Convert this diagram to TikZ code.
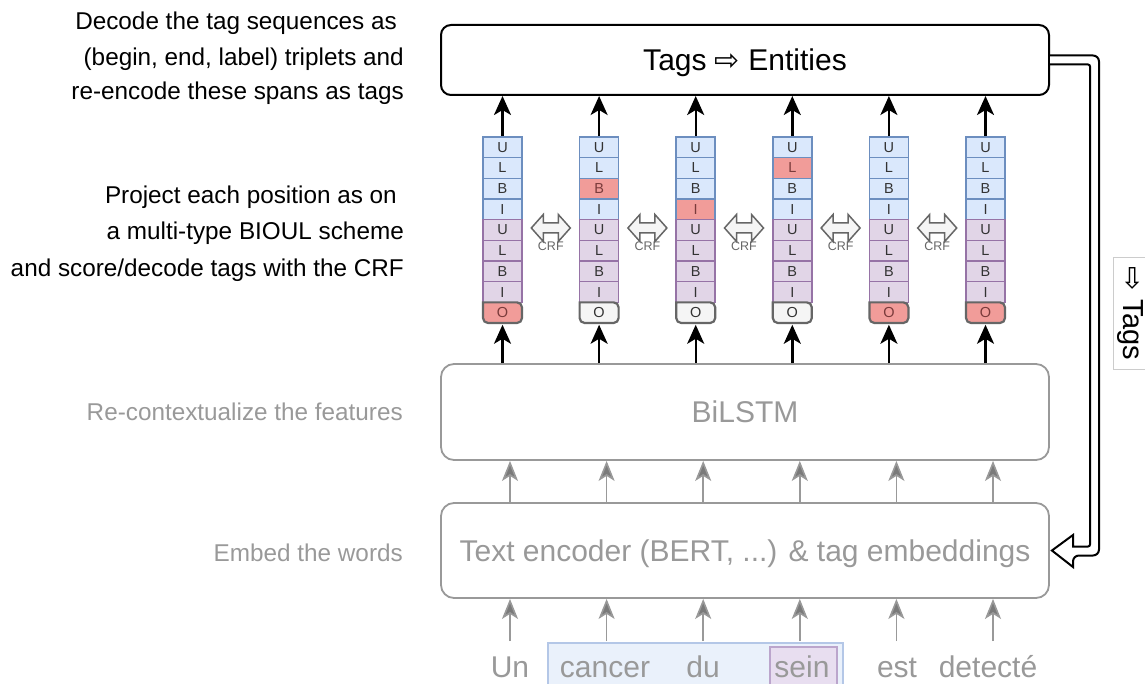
\documentclass[tikz,border=0pt]{standalone}
\usepackage{fontspec}
\setmainfont{Liberation Sans}
\newfontfamily\symfont{DejaVu Sans}
\usetikzlibrary{arrows.meta}
\definecolor{bfill}{HTML}{DAE8FC}
\definecolor{bdraw}{HTML}{6C8EBF}
\definecolor{pfill}{HTML}{E1D5E7}
\definecolor{pdraw}{HTML}{9673A6}
\definecolor{rfill}{HTML}{F19C99}
\definecolor{wfill}{HTML}{F5F5F5}
\definecolor{c333}{HTML}{333333}
\definecolor{c666}{HTML}{666666}
\definecolor{c999}{HTML}{999999}
\definecolor{c888}{HTML}{7A7A7A}
\definecolor{rtext}{HTML}{7A3B3B}
\definecolor{hlfill}{HTML}{EAF1FB}
\definecolor{hldraw}{HTML}{B4C7E7}
\definecolor{sfill}{HTML}{E8DEF0}
\definecolor{sdraw}{HTML}{BBA5CC}
\definecolor{lbldraw}{HTML}{CCCCCC}
\newcommand\myBig{\fontsize{30}{35}\selectfont}
\newcommand\myLbl{\fontsize{24.3}{29}\selectfont}
\newcommand\myCell{\fontsize{14.5}{14.5}\selectfont}
\newcommand\myCrf{\fontsize{12.5}{12.5}\selectfont}
\tikzset{
  mainbox/.style={minimum width=608pt, inner sep=0pt, font=\myBig, text depth=0pt},
  blackbox/.style={mainbox, draw=black, line width=2pt, rounded corners=10pt, text=black},
  graybox/.style={mainbox, draw=c999, line width=1.8pt, rounded corners=13pt, text=c999},
  cell/.style={minimum width=39pt, minimum height=20.67pt, inner sep=0pt, font=\myCell, text=c333, line width=1.5pt},
  blk/.style={draw=black, line width=2.4pt, -{Stealth[length=19pt, width=17pt, inset=5pt]}},
  gry/.style={draw=c999, line width=1.6pt, -{Stealth[length=20pt, width=16pt, inset=5pt, fill=c888]}},
  lbl/.style={font=\myLbl, anchor=base east, inner sep=0pt},
  word/.style={font=\myBig, text=c999, anchor=base, inner sep=0pt},
  crfarrow/.style={fill=wfill, draw=c666, line width=1.5pt, line join=miter},
  crftxt/.style={font=\myCrf, text=c666, inner sep=0pt},
  fbarrow/.style={draw=black, fill=white, line width=2pt},
}
\begin{document}
\begin{tikzpicture}[x=1pt,y=-1pt]
\useasboundingbox (0,0) rectangle (1145,684);

% left labels
\node[lbl] (l1) at (397,30) {Decode the tag sequences as};
\node[lbl] (l2) at (404,66) {(begin, end, label) triplets and};
\node[lbl] (l3) at (404,100) {re-encode these spans as tags};
\node[lbl] (l4) at (397,204) {Project each position as on};
\node[lbl] (l5) at (404,240) {a multi-type BIOUL scheme};
\node[lbl] (l6) at (404,277) {and score/decode tags with the CRF};
\node[lbl, text=c999] (l7) at (403,420) {Re-contextualize the features};
\node[lbl, text=c999] (l8) at (403,561) {Embed the words};

% main boxes
\node[blackbox, minimum height=70pt] (top) at (745,60) {Tags {\symfont ⇨} Entities};
\node[graybox, minimum height=96pt] (bil) at (745,412) {BiLSTM};
\node[graybox, minimum height=95pt] (enc) at (745,550.5) {Text encoder (BERT, ...) \& tag embeddings};

% highlighted span of words
\node[draw=hldraw, fill=hlfill, line width=1.2pt, minimum width=295pt, minimum height=57pt, inner sep=0pt] (span) at (695.5,671.5) {};
\node[draw=sdraw, fill=sfill, line width=1.2pt, minimum width=67pt, minimum height=53pt, inner sep=0pt] (seinbox) at (803.5,673.5) {};

% words
\node[word] (w1) at (510,677) {Un};
\node[word] (w2) at (605,677) {cancer};
\node[word] (w3) at (703,677) {du};
\node[word] (w4) at (802,677) {sein};
\node[word] (w5) at (897,677) {est};
\node[word] (w6) at (988,677) {detecté};

% tag columns
\foreach \i/\hl/\ored in {1/0/1,2/3/0,3/4/0,4/2/0,5/0/1,6/0/1}{
  \pgfmathsetmacro{\cx}{502.5+96.6*(\i-1)}
  \foreach \j/\t in {1/U,2/L,3/B,4/I}{
    \ifnum\j=\hl\relax\def\cf{rfill}\def\tc{rtext}\else\def\cf{bfill}\def\tc{c333}\fi
    \node[cell, fill=\cf, text=\tc, draw=bdraw] (c\i-\j) at (\cx,{137+20.67*(\j-0.5)}) {\t};
  }
  \foreach \j/\t in {5/U,6/L,7/B,8/I}{
    \node[cell, fill=pfill, draw=pdraw] (c\i-\j) at (\cx,{137+20.67*(\j-0.5)}) {\t};
  }
  \ifnum\ored=1\relax\def\of{rfill}\def\oc{rtext}\else\def\of{wfill}\def\oc{c333}\fi
  \path[fill=\of, draw=c666, line width=2.2pt] ({\cx-19.5},302.36) {[rounded corners=5pt] -- ({\cx-19.5},323) -- ({\cx+19.5},323) -- ({\cx+19.5},302.36)} -- cycle;
  \node[cell, text=\oc] (c\i-9) at (\cx,312.68) {O};
  \draw[blk] (c\i-1.north) -- (c\i-1.north |- top.south);
  \draw[blk] (c\i-9.south |- bil.north) -- ([yshift=-1pt]c\i-9.south);
}

% CRF double arrows
\foreach \k in {1,...,5}{
  \pgfmathsetmacro{\cx}{550.8+96.6*(\k-1)}
  \begin{scope}[shift={(\cx,228)}]
    \path[crfarrow] (-19.5,0) -- (-7.5,-13.5) -- (-7.5,-5) -- (7.5,-5) -- (7.5,-13.5) -- (19.5,0) -- (7.5,13.5) -- (7.5,5) -- (-7.5,5) -- (-7.5,13.5) -- cycle;
    \node[crftxt] (crf\k) at (0,18) {CRF};
  \end{scope}
}

% gray arrows
\foreach \i in {1,...,6}{
  \coordinate (g\i) at ({510+96.6*(\i-1)},0);
  \coordinate (wb\i) at ({510+96.6*(\i-1)},641);
  \draw[gry] (g\i |- enc.north) -- (g\i |- bil.south);
  \draw[gry] (wb\i) -- (wb\i |- enc.south);
}

% feedback arrow
\path[fbarrow] ([yshift=4.5pt]top.east) {[rounded corners=6pt] -- (1099,55.5) -- (1099,555.5) -- (1073,555.5)} -- (1073,567) -- ([xshift=2pt]enc.east) -- (1073,535) -- (1073,546.5) {[rounded corners=2pt] -- (1090,546.5) -- (1090,64.5)} -- ([yshift=-4.5pt]top.east);

% Tags label
\node[rotate=-90, draw=lbldraw, fill=white, line width=1pt, font=\fontsize{29}{32}\selectfont, minimum width=111pt, minimum height=34pt, inner sep=1pt] (tagslbl) at (1130,313.5) {{\symfont ⇨} Tags};
\end{tikzpicture}
\end{document}
